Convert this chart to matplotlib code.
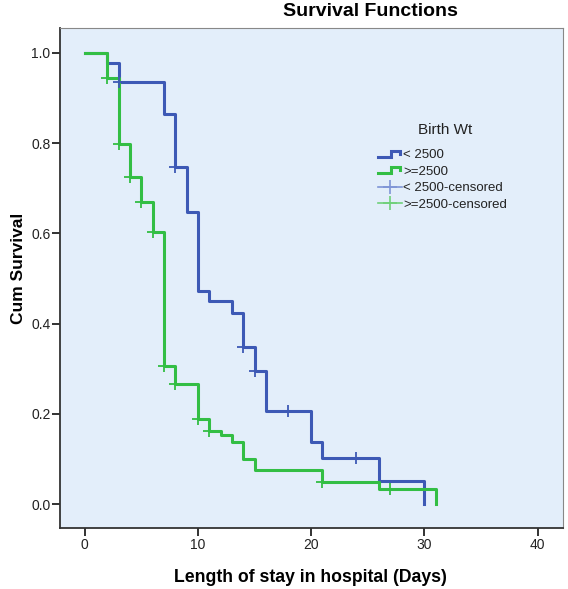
import numpy as np
import matplotlib.pyplot as plt
from matplotlib.lines import Line2D
from matplotlib.legend_handler import HandlerBase

plt.rcParams['font.family'] = ['Liberation Sans', 'DejaVu Sans']

# Kaplan-Meier trinn (tid i dager, kumulativ overlevelse)
T_LOW   = [0, 2, 3, 7, 8, 9, 10, 11, 13, 14, 15, 16, 20, 21, 26, 30]
S_LOW   = [1.0, 0.978, 0.935, 0.864, 0.747, 0.647, 0.472, 0.449, 0.423,
           0.348, 0.295, 0.206, 0.137, 0.103, 0.051, 0.0]
T_HIGH  = [0, 2, 3, 4, 5, 6, 7, 8, 10, 11, 12, 13, 14, 15, 21, 26, 31]
S_HIGH  = [1.0, 0.944, 0.799, 0.725, 0.670, 0.604, 0.306, 0.265, 0.188,
           0.163, 0.154, 0.138, 0.099, 0.076, 0.049, 0.033, 0.0]

# sensurerte observasjoner
TC_LOW  = [3, 8, 14, 15, 18, 24]
SC_LOW  = [0.935, 0.747, 0.348, 0.295, 0.206, 0.103]
TC_HIGH = [2, 3, 4, 5, 6, 7, 8, 10, 11, 21, 27]
SC_HIGH = [0.944, 0.799, 0.725, 0.670, 0.604, 0.306, 0.265, 0.188, 0.163,
           0.049, 0.033]

LABELS  = ["< 2500", ">=2500", "< 2500-censored", ">=2500-censored"]
X_TICKS = [0, 10, 20, 30, 40]
Y_TICKS = [0.0, 0.2, 0.4, 0.6, 0.8, 1.0]

BLUE  = "#3D59B5"
GREEN = "#33BE44"
BG    = "#E3EEFA"


class HandlerStep(HandlerBase):
    def create_artists(self, legend, orig, xd, yd, w, h, fs, trans):
        xs = np.array([0.0, 0.55, 0.55, 0.92, 0.92]) * w - xd
        ys = np.array([0.15, 0.15, 0.8, 0.8, 0.5]) * h - yd
        ln = Line2D(xs, ys, color=orig.get_color(), lw=orig.get_linewidth(),
                    solid_joinstyle="miter", transform=trans)
        return [ln]


fig = plt.figure(figsize=(5.68, 5.89), dpi=100)
ax = fig.add_axes([59.5 / 568, 1 - 528 / 589, 503.5 / 568, 500 / 589])
ax.set_facecolor(BG)

ax.step(T_LOW, S_LOW, where="post", color=BLUE, lw=2.2)
ax.step(T_HIGH, S_HIGH, where="post", color=GREEN, lw=2.2)
ax.plot(TC_LOW, SC_LOW, "+", color=BLUE, ms=8, mew=1.3)
ax.plot(TC_HIGH, SC_HIGH, "+", color=GREEN, ms=8, mew=1.3)

ax.set_xlim(-2.23, 42.25)
ax.set_ylim(-0.053, 1.055)
ax.set_xticks(X_TICKS)
ax.set_yticks(Y_TICKS)
ax.set_yticklabels([f"{v:.1f}" for v in Y_TICKS])
ax.tick_params(direction="out", length=5.5, width=1.3, labelsize=10,
               colors="#222222")
ax.tick_params(axis="y", pad=1)
ax.tick_params(axis="x", pad=2)
for side in ["left", "bottom"]:
    ax.spines[side].set_color("#333333")
    ax.spines[side].set_linewidth(1.3)
for side in ["top", "right"]:
    ax.spines[side].set_color("#888888")
    ax.spines[side].set_linewidth(0.8)

fig.text(370 / 568, 1 - 12 / 589, "Survival Functions", ha="center",
         va="center", fontsize=14, fontweight="bold")
fig.text(310 / 568, 1 - 577 / 589, "Length of stay in hospital (Days)",
         ha="center", va="center", fontsize=12.7, fontweight="bold")
fig.text(19 / 568, 1 - 268 / 589, "Cum Survival", ha="center", va="center",
         rotation=90, fontsize=12.5, fontweight="bold")

# legende
h1 = Line2D([], [], color=BLUE, lw=2.2)
h2 = Line2D([], [], color=GREEN, lw=2.2)
h3 = Line2D([], [], color="#7F95D6", lw=1.2, marker="+", ms=10, mew=1.2)
h4 = Line2D([], [], color="#6FD07A", lw=1.2, marker="+", ms=10, mew=1.2)
fig.text(445 / 568, 1 - 130 / 589, "Birth Wt", ha="center", va="center",
         fontsize=11, color="#222222")
leg = fig.legend([h1, h2, h3, h4], LABELS, loc="upper left",
                 bbox_to_anchor=(378 / 568, 1 - 149 / 589), frameon=False,
                 fontsize=9.5, handlelength=1.82, handletextpad=0.08,
                 labelspacing=0.33, borderaxespad=0, borderpad=0,
                 handler_map={h1: HandlerStep(), h2: HandlerStep()})
for t in leg.get_texts():
    t.set_color("#222222")

fig.savefig("out.png", dpi=100)
